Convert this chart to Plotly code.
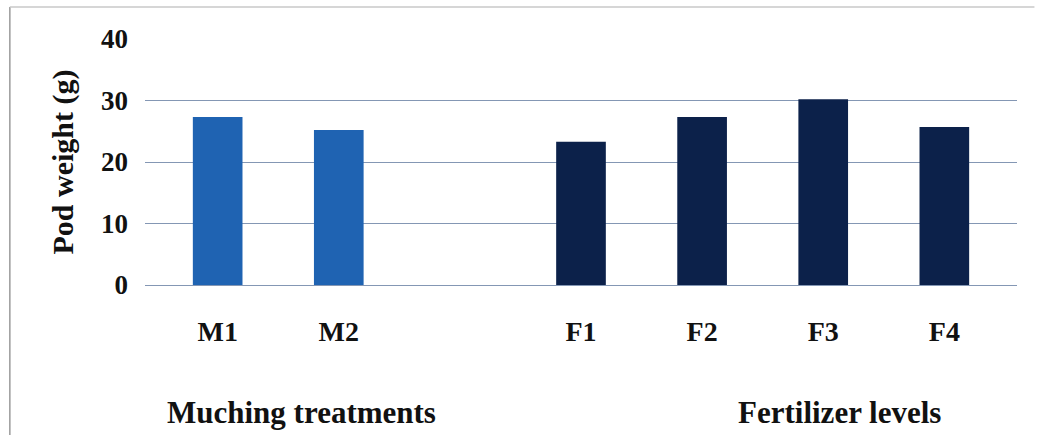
import plotly.graph_objects as go

# Pod weight (g) by treatment
mulch_labels = ["M1", "M2"]
mulch_values = [27.3, 25.2]
fert_labels = ["F1", "F2", "F3", "F4"]
fert_values = [23.3, 27.3, 30.2, 25.7]
spacer = " "
y_ticks = [0, 10, 20, 30, 40]

category_order = mulch_labels + [spacer] + fert_labels
font_family = "Liberation Serif, Times New Roman, serif"

fig = go.Figure()
fig.add_trace(go.Bar(
    x=mulch_labels, y=mulch_values,
    marker=dict(color="#1f63b2", line=dict(width=0)),
    width=0.41, showlegend=False,
))
fig.add_trace(go.Bar(
    x=fert_labels, y=fert_values,
    marker=dict(color="#0c214a", line=dict(width=0)),
    width=0.41, showlegend=False,
))

fig.update_layout(
    width=1044, height=436,
    margin=dict(l=145, r=27, t=39, b=151),
    paper_bgcolor="white", plot_bgcolor="white",
    font=dict(family=font_family, color="#111111"),
    xaxis=dict(
        type="category", categoryorder="array", categoryarray=category_order,
        range=[-0.6, 6.6], showgrid=False, showline=False, ticks="",
        tickfont=dict(size=28, family=font_family, weight="bold"),
        ticklabelstandoff=27,
    ),
    yaxis=dict(
        range=[0, 40], tickvals=y_ticks, showgrid=True,
        gridcolor="#8497b4", gridwidth=1, zeroline=True,
        zerolinecolor="#8497b4", zerolinewidth=1, showline=False, ticks="",
        tickfont=dict(size=27, family=font_family, weight="bold"),
        ticklabelstandoff=16,
    ),
    annotations=[
        dict(text="<b>Pod weight (g)</b>", textangle=-90, xref="paper", yref="paper",
             x=-0.094, y=0.498, xanchor="center", yanchor="middle", showarrow=False,
             font=dict(size=30, family=font_family, color="#111111")),
        dict(text="<b>Muching treatments</b>", xref="paper", yref="paper",
             x=0.179, y=-0.52, xanchor="center", yanchor="middle", showarrow=False,
             font=dict(size=31, family=font_family, color="#111111")),
        dict(text="<b>Fertilizer levels</b>", xref="paper", yref="paper",
             x=0.796, y=-0.52, xanchor="center", yanchor="middle", showarrow=False,
             font=dict(size=31, family=font_family, color="#111111")),
    ],
    shapes=[
        dict(type="line", xref="paper", yref="paper", x0=-0.155, x1=-0.155, y0=-0.61, y1=1.13,
             line=dict(color="#9a9a9a", width=1.5)),
        dict(type="line", xref="paper", yref="paper", x0=-0.155, x1=1.02, y0=1.13, y1=1.13,
             line=dict(color="#c8c8c8", width=1.5)),
    ],
    bargap=0.5,
)

fig.write_html("out.html")
